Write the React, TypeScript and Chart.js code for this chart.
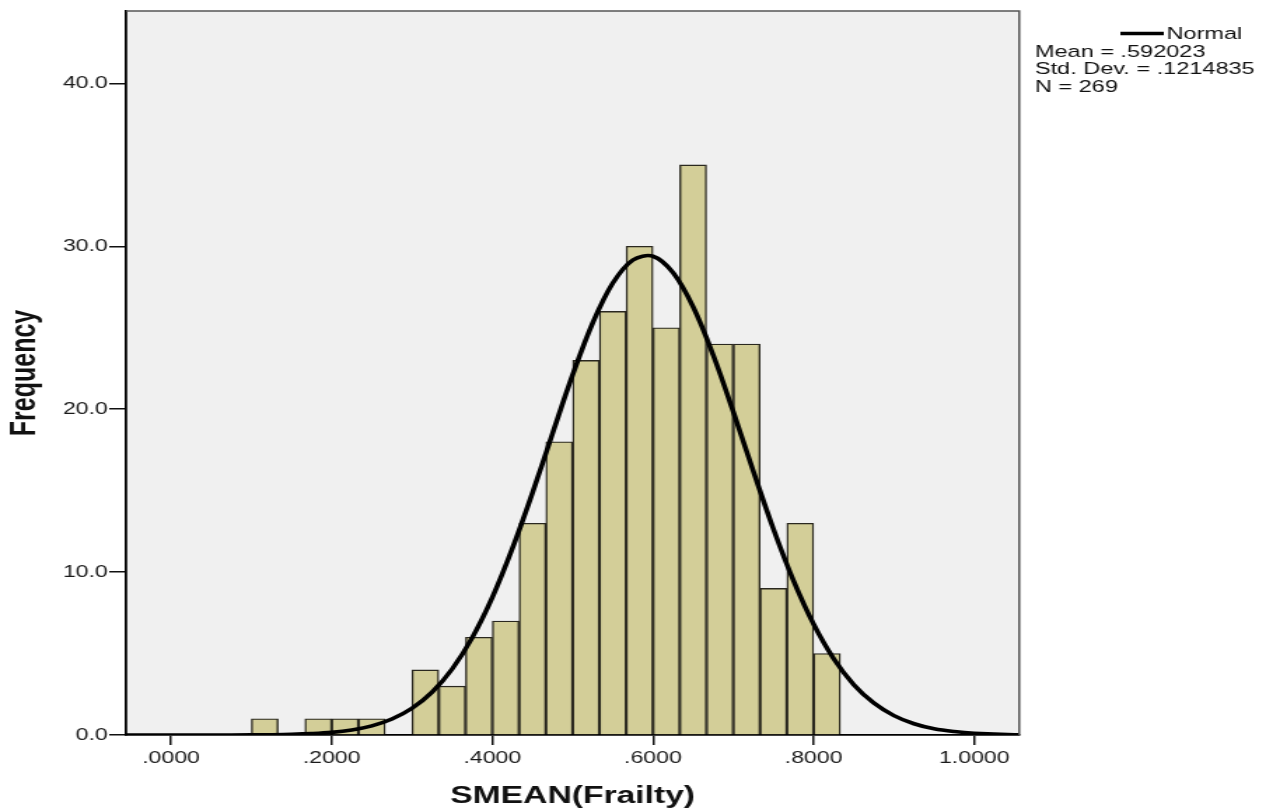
import React, { useEffect, useRef } from 'react';
import { Chart, registerables } from 'chart.js';

Chart.register(...registerables);

// Histogram bins (width 1/30), centres and frequencies
const binCenters = [
  0.116667, 0.15, 0.183333, 0.216667, 0.25, 0.283333, 0.316667, 0.35,
  0.383333, 0.416667, 0.45, 0.483333, 0.516667, 0.55, 0.583333, 0.616667,
  0.65, 0.683333, 0.716667, 0.75, 0.783333, 0.816667,
];
const binCounts = [1, 0, 1, 1, 1, 0, 4, 3, 6, 7, 13, 18, 23, 26, 30, 25, 35, 24, 24, 9, 13, 5];

// Normal curve
const curveX = [
  -0.1, -0.05, 0.0, 0.05, 0.1, 0.125, 0.15, 0.175, 0.2, 0.225, 0.25, 0.275, 0.3,
  0.325, 0.35, 0.375, 0.4, 0.425, 0.45, 0.475, 0.5, 0.525, 0.55, 0.575, 0.6,
  0.625, 0.65, 0.675, 0.7, 0.725, 0.75, 0.775, 0.8, 0.825, 0.85, 0.875, 0.9,
  0.925, 0.95, 0.975, 1.0, 1.05, 1.1,
];
const curveY = [
  0, 0, 0, 0.001, 0.008, 0.018, 0.039, 0.082, 0.16, 0.31, 0.56, 0.98, 1.64,
  2.63, 4.05, 5.98, 8.45, 11.46, 14.87, 18.52, 22.11, 25.3, 27.74, 29.16, 29.39,
  28.38, 26.28, 23.32, 19.84, 16.18, 12.64, 9.47, 6.8, 4.68, 3.09, 1.96, 1.19,
  0.69, 0.38, 0.21, 0.11, 0.02, 0,
];

const xRange = [-0.056, 1.056];
const yRange = [0, 44.45];
const xStep = 0.2;
const yStep = 10;

const legendLabel = 'Normal';
const legendLines = ['Mean = .592023', 'Std. Dev. = .1214835', 'N = 269'];
const xTitle = 'SMEAN(Frailty)';
const yTitle = 'Frequency';

const INNER_W = 909;
const H = 812;
const FONT = '"Liberation Sans", Arial, sans-serif';

const framePlugin = {
  id: 'spssFrame',
  beforeDraw(chart: any) {
    const { ctx, chartArea: a } = chart;
    ctx.save();
    ctx.fillStyle = '#ffffff';
    ctx.fillRect(0, 0, chart.width, chart.height);
    ctx.fillStyle = '#f0f0f0';
    ctx.fillRect(a.left, a.top, a.right - a.left, a.bottom - a.top);
    ctx.restore();
  },
  afterDraw(chart: any) {
    const { ctx, chartArea: a } = chart;
    ctx.save();
    ctx.strokeStyle = '#555555';
    ctx.lineWidth = 1.5;
    ctx.beginPath();
    ctx.moveTo(a.left, a.top);
    ctx.lineTo(a.right, a.top);
    ctx.lineTo(a.right, a.bottom);
    ctx.stroke();

    // legend
    ctx.strokeStyle = '#000';
    ctx.lineWidth = 3.5;
    ctx.beginPath();
    ctx.moveTo(800, 33.5);
    ctx.lineTo(831, 33.5);
    ctx.stroke();
    ctx.fillStyle = '#111';
    ctx.font = `16.8px ${FONT}`;
    ctx.textBaseline = 'alphabetic';
    ctx.textAlign = 'left';
    ctx.fillText(legendLabel, 833, 39);
    legendLines.forEach((t, i) => ctx.fillText(t, 739, 56.5 + i * 17.5));
    ctx.restore();
  },
};

export default function App() {
  const ref = useRef<HTMLCanvasElement>(null);

  useEffect(() => {
    if (!ref.current) return;
    const chart = new Chart(ref.current, {
      type: 'bar',
      data: {
        datasets: [
          {
            type: 'line',
            label: legendLabel,
            data: curveX.map((x, i) => ({ x, y: curveY[i] })),
            borderColor: '#000',
            borderWidth: 3.6,
            pointRadius: 0,
            tension: 0.35,
            fill: false,
            order: 0,
          } as any,
          {
            type: 'bar',
            label: 'Frequency',
            data: binCenters.map((x, i) => ({ x, y: binCounts[i] })),
            backgroundColor: '#d3ce98',
            borderColor: '#2a281f',
            borderWidth: 1.4,
            barPercentage: 1,
            categoryPercentage: 1,
            order: 1,
          } as any,
        ],
      },
      options: {
        responsive: false,
        animation: false,
        devicePixelRatio: 1,
        layout: { padding: { left: 0, top: 8, right: INNER_W - 727.8, bottom: 0 } },
        plugins: {
          legend: { display: false },
          tooltip: { enabled: false },
        },
        scales: {
          x: {
            type: 'linear',
            min: xRange[0],
            max: xRange[1],
            offset: false,
            afterFit: (s: any) => {
              s.height = H - 735;
            },
            grid: {
              offset: false,
              drawOnChartArea: false,
              drawTicks: true,
              tickLength: 10,
              color: '#111',
              lineWidth: 1.5,
            },
            border: { display: true, color: '#000', width: 1.8 },
            ticks: {
              stepSize: xStep,
              includeBounds: false,
              autoSkip: false,
              maxRotation: 0,
              padding: 4,
              color: '#1a1a1a',
              font: { family: FONT, size: 16.5 },
              callback: (v: any) => Number(v).toFixed(4).replace(/^0/, ''),
            },
            title: {
              display: true,
              text: xTitle,
              color: '#111',
              font: { family: FONT, size: 24, weight: 'bold' },
              padding: { top: 0, bottom: 1 },
            },
          },
          y: {
            type: 'linear',
            min: yRange[0],
            max: yRange[1],
            afterFit: (s: any) => {
              s.width = 90;
            },
            grid: {
              drawOnChartArea: false,
              drawTicks: true,
              tickLength: 12,
              color: '#111',
              lineWidth: 1.5,
            },
            border: { display: true, color: '#000', width: 1.8 },
            ticks: {
              stepSize: yStep,
              includeBounds: false,
              autoSkip: false,
              padding: 1,
              color: '#1a1a1a',
              font: { family: FONT, size: 16.5 },
              callback: (v: any) => Number(v).toFixed(1),
            },
            title: {
              display: true,
              text: yTitle,
              color: '#111',
              font: { family: FONT, size: 25, weight: 'bold' },
              padding: { top: 3, bottom: 0 },
            },
          },
        },
      } as any,
      plugins: [framePlugin],
    });
    return () => chart.destroy();
  }, []);

  return (
    <div style={{ position: 'fixed', left: 0, top: 0, width: 1273, height: H, background: '#fff' }}>
      <canvas
        ref={ref}
        width={INNER_W}
        height={H}
        style={{ width: '1273px', height: `${H}px`, display: 'block' }}
      />
    </div>
  );
}
